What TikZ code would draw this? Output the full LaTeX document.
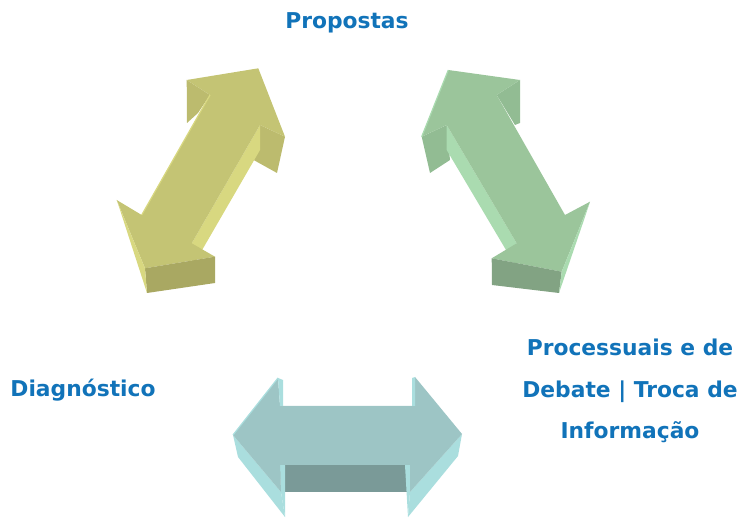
\documentclass[tikz,border=0pt]{standalone}
\usepackage{fontspec}
\setmainfont{DejaVu Sans}
\usepackage{tikz}
\usetikzlibrary{positioning}

\definecolor{txtblue}{HTML}{1173B9}
\definecolor{yelFace}{HTML}{C4C474}
\definecolor{yelLight}{HTML}{D8D880}
\definecolor{yelSide}{HTML}{BCBB6E}
\definecolor{yelDark}{HTML}{A9A862}
\definecolor{grnFace}{HTML}{9BC59B}
\definecolor{grnLight}{HTML}{AADBB0}
\definecolor{grnSide}{HTML}{92BC93}
\definecolor{grnDark}{HTML}{82A383}
\definecolor{bluFace}{HTML}{9DC5C5}
\definecolor{bluLight}{HTML}{AADEDE}
\definecolor{bluDark}{HTML}{7A9A98}

\begin{document}
\begin{tikzpicture}[x=1pt,y=-1pt,
	lbl/.style={text=txtblue, font=\fontsize{21.8}{41.5}\selectfont\bfseries, align=center, inner sep=0pt},
	face/.style={line join=round}]
	
	\useasboundingbox (0,0) rectangle (742,518);
	
	% Yellow double arrow (left), corners of its front face
	\coordinate (Y1)  at (186.7,80);
	\coordinate (Y2)  at (258.3,68.3);
	\coordinate (Y3)  at (285,136.7);
	\coordinate (Y4)  at (260,125);
	\coordinate (Y5)  at (191.7,243.3);
	\coordinate (Y6)  at (215,256.7);
	\coordinate (Y7)  at (145,268.3);
	\coordinate (Y8)  at (116.7,200);
	\coordinate (Y9)  at (141.7,215);
	\coordinate (Y10) at (210,95);
	
	\fill[yelSide]  (Y4) -- (Y3) -- (277,173) -- (250,158) -- cycle;
	\fill[yelSide]  (Y1) -- (Y10) -- (198,113) -- (187,123) -- cycle;
	\fill[yelLight] (Y4) -- (Y5) -- (191.7,268) -- (260,150) -- cycle;
	\fill[yelFace, face] (Y1) -- (Y2) -- (Y3) -- (Y4) -- (Y5) -- (Y6) -- (Y7) -- (Y8) -- (Y9) -- (Y10) -- cycle;
	\fill[yelDark]  (Y7) -- (Y6) -- (215,283) -- (147,293) -- cycle;
	\fill[yelLight] (Y8) -- (Y7) -- (147,293) -- (121,213) -- cycle;
	\draw[yelLight, line width=1.2pt] (Y10) -- (Y9);
	
	% Green double arrow (right)
	\coordinate (G1)  at (448.3,70);
	\coordinate (G2)  at (520,80);
	\coordinate (G3)  at (496.7,95);
	\coordinate (G4)  at (565,215);
	\coordinate (G5)  at (590,201.7);
	\coordinate (G6)  at (561.7,271.7);
	\coordinate (G7)  at (491.7,258.3);
	\coordinate (G8)  at (516.7,243.3);
	\coordinate (G9)  at (446.7,125);
	\coordinate (G10) at (421.7,136.7);
	
	\fill[grnSide]  (G10) -- (G9) -- (450,160) -- (430,173) -- cycle;
	\fill[grnSide]  (G3) -- (G2) -- (520,123) -- (515,125) -- cycle;
	\fill[grnLight] (G9) -- (G8) -- (516.7,268) -- (446.7,150) -- cycle;
	\fill[grnFace, face] (G1) -- (G2) -- (G3) -- (G4) -- (G5) -- (G6) -- (G7) -- (G8) -- (G9) -- (G10) -- cycle;
	\fill[grnDark]  (G7) -- (G6) -- (559,293) -- (492,285) -- cycle;
	\fill[grnLight] (G5) -- (G6) -- (559,293) -- (586,214) -- cycle;
	\draw[grnLight, line width=1.2pt] (G10) -- (G1);
	
	% Blue double arrow (bottom)
	\coordinate (B1)  at (233,435);
	\coordinate (B2)  at (278,378);
	\coordinate (B3)  at (280,406);
	\coordinate (B4)  at (415,406);
	\coordinate (B5)  at (415,377);
	\coordinate (B6)  at (462,434);
	\coordinate (B7)  at (410,492);
	\coordinate (B8)  at (410,465);
	\coordinate (B9)  at (280,465);
	\coordinate (B10) at (281,492);
	
	\fill[bluDark]  (B9) -- (B8) -- (B7) -- (B10) -- cycle;
	\fill[bluLight] (B1) -- (B10) -- (285,517) -- (238,457) -- cycle;
	\fill[bluLight] (B6) -- (B7) -- (408,517) -- (458,456) -- cycle;
	\fill[bluLight] (B9) -- (285,465) -- (285,517) -- (B10) -- cycle;
	\fill[bluLight] (B8) -- (B7) -- (408,517) -- (405,465) -- cycle;
	\fill[bluFace, face] (B1) -- (B2) -- (B3) -- (B4) -- (B5) -- (B6) -- (B7) -- (B8) -- (B9) -- (B10) -- cycle;
	\fill[bluLight] (B2) -- (283,380) -- (283,406) -- (B3) -- cycle;
	\fill[bluLight] (412,378) -- (B5) -- (B4) -- (412,406) -- cycle;
	\draw[bluLight, line width=1.2pt] (B1) -- (B2);
	
	% Labels
	\node[lbl] (prop) at (347,23) {Propostas};
	\node[lbl] (diag) at (83,390) {Diagnóstico};
	\node[lbl] (proc) at (630,391) {Processuais e de\\Debate | Troca de\\Informação};
	
\end{tikzpicture}
\end{document}
